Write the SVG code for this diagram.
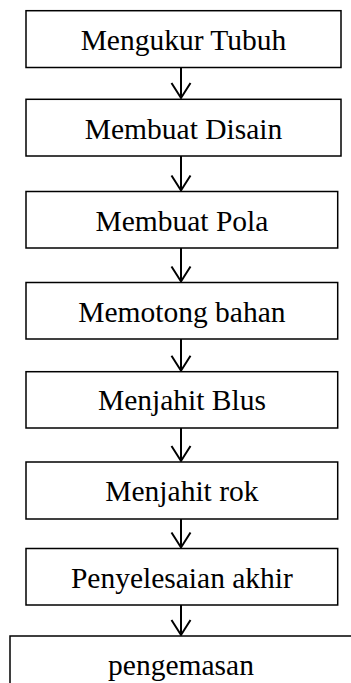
<svg xmlns="http://www.w3.org/2000/svg" width="351" height="683" viewBox="0 0 351 683">
<style>
.box{fill:#fff;stroke:#000;stroke-width:1.5}
.lbl{font-family:"Liberation Serif","Times New Roman",serif;font-size:29.5px;fill:#000;text-anchor:middle}
.conn{fill:none;stroke:#000;stroke-width:2}
</style>
<rect width="351" height="683" fill="#fff"/>
<g id="connectors">
<path class="conn" d="M181 67.5V98M171.5 83L181 98L190.5 83"/>
<path class="conn" d="M181 156V190.5M171.5 175.5L181 190.5L190.5 175.5"/>
<path class="conn" d="M181 248V281.5M171.5 266.5L181 281.5L190.5 266.5"/>
<path class="conn" d="M181 339V370.7M171.5 355.7L181 370.7L190.5 355.7"/>
<path class="conn" d="M181 428V461M171.5 446L181 461L190.5 446"/>
<path class="conn" d="M181 519V547.5M171.5 532.5L181 547.5L190.5 532.5"/>
<path class="conn" d="M181 605V635M171.5 620L181 635L190.5 620"/>
</g>
<g id="n1"><rect class="box" x="26" y="10.7" width="315" height="56.8"/><text class="lbl" x="183.5" y="50">Mengukur Tubuh</text></g>
<g id="n2"><rect class="box" x="26" y="99.3" width="315" height="56.7"/><text class="lbl" x="183.5" y="138.5">Membuat Disain</text></g>
<g id="n3"><rect class="box" x="26" y="191.5" width="311.7" height="56.5"/><text class="lbl" x="181.9" y="230.5">Membuat Pola</text></g>
<g id="n4"><rect class="box" x="26" y="282.5" width="311.7" height="56.5"/><text class="lbl" x="181.9" y="321.5">Memotong bahan</text></g>
<g id="n5"><rect class="box" x="26" y="371.7" width="311.7" height="56.3"/><text class="lbl" x="181.9" y="410">Menjahit Blus</text></g>
<g id="n6"><rect class="box" x="26" y="462" width="311.7" height="57"/><text class="lbl" x="181.9" y="501">Menjahit rok</text></g>
<g id="n7"><rect class="box" x="26" y="548.5" width="311.7" height="56.5"/><text class="lbl" x="181.9" y="587.5">Penyelesaian akhir</text></g>
<g id="n8"><rect class="box" x="10" y="636" width="360" height="80"/><text class="lbl" x="181" y="675">pengemasan</text></g>
</svg>
